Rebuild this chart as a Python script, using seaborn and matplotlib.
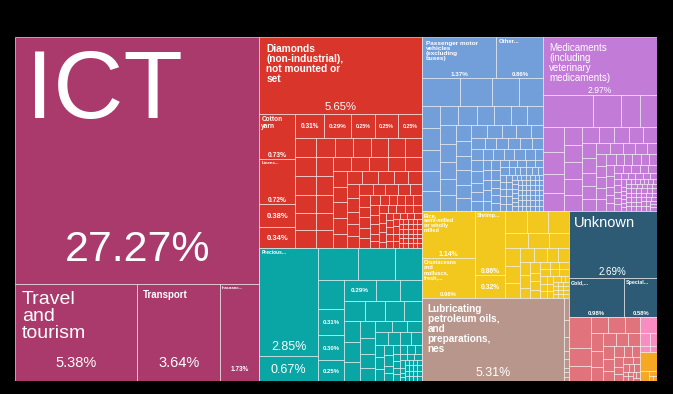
import matplotlib
matplotlib.use('Agg')
import matplotlib.pyplot as plt
import seaborn as sns

# --- DADOS (participação % nas exportações) ---
SERVICOS_NOMES = ['ICT', 'Travel\nand\ntourism', 'Transport', 'Insuranc...']
SERVICOS_VALORES = [27.27, 5.38, 3.64, 1.73]

PEDRAS_NOMES = ['Diamonds\n(non-industrial),\nnot mounted or\nset', 'Cotton\nyarn', 'Linens...']
PEDRAS_VALORES = [5.65, 0.73, 0.72, 0.38, 0.34, 0.31, 0.29, 0.25, 0.25, 0.25]
PEDRAS_MENORES = [0.19, 0.18, 0.18, 0.17, 0.17, 0.17, 0.16,
                  0.16, 0.15, 0.15, 0.15, 0.14, 0.14, 0.14,
                  0.13, 0.13, 0.13, 0.12, 0.12, 0.12, 0.11, 0.11,
                  0.10, 0.10, 0.10, 0.10, 0.09, 0.09, 0.09, 0.09,
                  0.08, 0.08, 0.08, 0.08, 0.07, 0.07, 0.07, 0.07,
                  0.06, 0.06, 0.06, 0.06, 0.06, 0.05, 0.05, 0.05, 0.05, 0.05,
                  0.04, 0.04, 0.04, 0.04, 0.04, 0.04, 0.04, 0.04,
                  0.03, 0.03, 0.03, 0.03, 0.03, 0.03, 0.03, 0.03, 0.03, 0.03,
                  0.02, 0.02, 0.02, 0.02, 0.02, 0.02, 0.02, 0.02, 0.02, 0.02, 0.02, 0.02, 0.02, 0.02,
                  0.01, 0.01, 0.01, 0.01, 0.01, 0.01, 0.01, 0.01, 0.01, 0.01,
                  0.01, 0.01, 0.01, 0.01, 0.01, 0.01, 0.01, 0.01, 0.01, 0.01,
                  0.01, 0.01, 0.01, 0.01, 0.01, 0.01, 0.01, 0.01, 0.01, 0.01]

PRECIOSOS_NOMES = ['Precious...']
PRECIOSOS_VALORES = [2.85, 0.67, 0.58, 0.54, 0.39, 0.35, 0.31, 0.30, 0.25, 0.29, 0.22, 0.20]
PRECIOSOS_MENORES = [0.19, 0.18, 0.17, 0.16, 0.15,
                     0.14, 0.13, 0.12, 0.11, 0.10,
                     0.09, 0.09, 0.08, 0.08, 0.07, 0.07,
                     0.06, 0.06, 0.05, 0.05, 0.05, 0.04, 0.04,
                     0.03, 0.03, 0.03, 0.03, 0.03, 0.03,
                     0.02, 0.02, 0.02, 0.02, 0.02, 0.02, 0.02, 0.02,
                     0.01, 0.01, 0.01, 0.01, 0.01, 0.01, 0.01, 0.01, 0.01, 0.01,
                     0.01, 0.01, 0.01, 0.01, 0.01, 0.01, 0.01, 0.01, 0.01]

MAQUINAS_NOMES = ['Passenger motor\nvehicles\n(excluding\nbuses)', 'Other...']
MAQUINAS_VALORES = [1.37, 0.86, 0.50, 0.41, 0.35, 0.32]
MAQUINAS_MENORES = [0.18, 0.18, 0.17, 0.17, 0.16, 0.16,
                    0.16, 0.15, 0.15, 0.14, 0.14, 0.13, 0.13,
                    0.12, 0.12, 0.11, 0.11, 0.10, 0.10, 0.10,
                    0.09, 0.09, 0.09, 0.08, 0.08, 0.08, 0.07, 0.07,
                    0.06, 0.06, 0.06, 0.06, 0.06, 0.06, 0.06, 0.06,
                    0.05, 0.05, 0.05, 0.05, 0.05, 0.05, 0.05, 0.05,
                    0.04, 0.04, 0.04, 0.04, 0.04, 0.04, 0.04, 0.04,
                    0.03, 0.03, 0.03, 0.03, 0.03, 0.03, 0.03, 0.03, 0.03, 0.03,
                    0.02, 0.02, 0.02, 0.02, 0.02, 0.02, 0.02, 0.02,
                    0.02, 0.02, 0.02, 0.02, 0.02, 0.02, 0.02, 0.02,
                    0.01, 0.01, 0.01, 0.01, 0.01, 0.01, 0.01, 0.01, 0.01, 0.01,
                    0.01, 0.01, 0.01, 0.01, 0.01, 0.01, 0.01, 0.01, 0.01, 0.01,
                    0.01, 0.01, 0.01, 0.01, 0.01, 0.01, 0.01, 0.01, 0.01, 0.01,
                    0.01, 0.01, 0.01, 0.01, 0.01, 0.01, 0.01, 0.01, 0.01, 0.01,
                    0.01, 0.01, 0.01, 0.01, 0.01, 0.01, 0.01, 0.01, 0.01, 0.01]

QUIMICOS_NOMES = ['Medicaments\n(including\nveterinary\nmedicaments)']
QUIMICOS_VALORES = [2.97, 0.72, 0.42, 0.27, 0.25]
QUIMICOS_MENORES = [0.24, 0.20, 0.18, 0.17,
                    0.15, 0.14, 0.14, 0.13, 0.13, 0.12,
                    0.11, 0.11, 0.10, 0.10, 0.09, 0.09,
                    0.08, 0.08, 0.07, 0.07, 0.07, 0.06, 0.06,
                    0.05, 0.05, 0.05, 0.05, 0.05, 0.05, 0.05,
                    0.04, 0.04, 0.04, 0.04, 0.04, 0.04, 0.04,
                    0.03, 0.03, 0.03, 0.03, 0.03, 0.03, 0.03, 0.03,
                    0.02, 0.02, 0.02, 0.02, 0.02, 0.02, 0.02, 0.02, 0.02, 0.02, 0.02, 0.02,
                    0.01, 0.01, 0.01, 0.01, 0.01, 0.01, 0.01, 0.01, 0.01, 0.01,
                    0.01, 0.01, 0.01, 0.01, 0.01, 0.01, 0.01, 0.01, 0.01, 0.01,
                    0.01, 0.01, 0.01, 0.01, 0.01, 0.01, 0.01, 0.01, 0.01, 0.01,
                    0.01, 0.01, 0.01, 0.01, 0.01, 0.01, 0.01, 0.01, 0.01, 0.01,
                    0.01, 0.01, 0.01, 0.01, 0.01, 0.01, 0.01, 0.01, 0.01, 0.01]

ALIMENTOS_NOMES = ['Rice,\nsemi-milled\nor wholly\nmilled', 'Crustaceans\nand\nmolluscs,\nfresh,...', 'Shrimp...']
ALIMENTOS_VALORES = [1.14, 0.98, 0.86, 0.32]
ALIMENTOS_MENORES = [0.22, 0.21, 0.20, 0.16, 0.15, 0.14,
                     0.12, 0.11, 0.10, 0.09,
                     0.08, 0.07, 0.07, 0.06, 0.06,
                     0.05, 0.05, 0.04, 0.04, 0.04,
                     0.03, 0.03, 0.03, 0.03, 0.03, 0.03,
                     0.02, 0.02, 0.02, 0.02, 0.02, 0.02, 0.02,
                     0.01, 0.01, 0.01, 0.01, 0.01, 0.01, 0.01,
                     0.01, 0.01, 0.01, 0.01, 0.01, 0.01, 0.01]

COMBUSTIVEIS_NOMES = ['Lubricating\npetroleum oils,\nand\npreparations,\nnes']
COMBUSTIVEIS_VALORES = [5.31, 0.05, 0.04, 0.03, 0.02, 0.02, 0.01, 0.01, 0.01]

OUTROS_NOMES = ['Unknown', 'Gold,...', 'Special...']
OUTROS_VALORES = [2.69, 0.98, 0.58]

SALMAO_VALORES = [0.30, 0.18, 0.15, 0.13, 0.12, 0.11, 0.10,
                  0.09, 0.08, 0.08, 0.07, 0.07,
                  0.06, 0.06, 0.05, 0.05, 0.04, 0.04, 0.04,
                  0.03, 0.03, 0.03, 0.02, 0.02, 0.02, 0.02,
                  0.01, 0.01, 0.01, 0.01, 0.01, 0.01, 0.01]
ROSA_VALORES = [0.12, 0.06, 0.04, 0.03, 0.02]
LARANJA_VALORES = [0.14, 0.04, 0.02, 0.01, 0.01]

# --- CONFIGURAÇÕES ---
OUTPUT_FILE = 'out.png'
CORES = {
    'servicos': '#a93a6b', 'pedras': '#d9352b', 'preciosos': '#0aa5a5',
    'maquinas': '#729fd9', 'quimicos': '#c27bd6', 'alimentos': '#f2c81f',
    'combustiveis': '#b9968b', 'outros': '#2d5b75', 'salmao': '#e0737b',
    'rosa': '#f78dc0', 'laranja': '#f6a724',
}
# rótulos: (fonte do nome, fonte da %, nome em negrito, % em negrito, margem, folga inferior)
ESTILOS = {
    ('servicos', 0): (70, 31, False, False, 11, 23),
    ('servicos', 1): (14, 10.5, False, False, 7, 14),
    ('servicos', 2): (7, 10.5, True, False, 6, 14),
    ('servicos', 3): (3.2, 4.7, True, True, 2, 10),
    ('pedras', 0): (7.3, 8.1, True, False, 7, 4),
    ('pedras', 1): (4.7, 4.8, True, True, 2, 2),
    ('pedras', 2): (3.2, 4.8, True, True, 2, 2),
    ('pedras', 3): (None, 5.5, True, True, 0, 0),
    ('pedras', 4): (None, 5.5, True, True, 0, 0),
    ('pedras', 5): (None, 4.7, True, True, 0, 0),
    ('pedras', 6): (None, 4.5, True, True, 0, 0),
    ('pedras', 7): (None, 3.8, True, True, 0, 0),
    ('pedras', 8): (None, 3.8, True, True, 0, 0),
    ('pedras', 9): (None, 3.8, True, True, 0, 0),
    ('preciosos', 0): (3.5, 9, True, False, 2, 6),
    ('preciosos', 1): (None, 9, False, False, 0, 0),
    ('preciosos', 6): (None, 4.3, True, True, 0, 0),
    ('preciosos', 7): (None, 4.3, True, True, 0, 0),
    ('preciosos', 8): (None, 4.3, True, True, 0, 0),
    ('preciosos', 9): (None, 4.6, True, True, 0, 0),
    ('maquinas', 0): (4.6, 4.5, True, True, 4, 2),
    ('maquinas', 1): (4.3, 4.3, True, True, 2, 2),
    ('quimicos', 0): (7, 6.2, False, False, 6, 2),
    ('alimentos', 0): (4, 5, True, True, 2, 2),
    ('alimentos', 1): (4, 4.2, True, True, 2, 2),
    ('alimentos', 2): (4, 4.9, True, True, 2, 2),
    ('alimentos', 3): (None, 4.9, True, True, 0, 0),
    ('combustiveis', 0): (7.2, 8.9, True, False, 6, 5),
    ('outros', 0): (10.5, 7, False, False, 5, 3),
    ('outros', 1): (3.8, 4.3, True, True, 2, 2),
    ('outros', 2): (3.8, 4.2, True, True, 2, 2),
}
RAZAO = 1.0

# --- FUNÇÕES AUXILIARES ---

def squarify(valores, x0, y0, x1, y1, razao=RAZAO):
    """Layout 'squarify' no mesmo esquema do d3-hierarchy. Devolve (x, y, w, h)."""
    n = len(valores)
    retangulos = []
    total = float(sum(valores))
    i0 = i1 = 0
    while i0 < n:
        dx, dy = x1 - x0, y1 - y0
        soma = valores[i1]
        i1 += 1
        vmin = vmax = soma
        alpha = max(dy / dx, dx / dy) / (total * razao)
        beta = soma * soma * alpha
        melhor = max(vmax / beta, beta / vmin)
        while i1 < n:
            v = valores[i1]
            nova_soma = soma + v
            beta = nova_soma * nova_soma * alpha
            nova = max(max(vmax, v) / beta, beta / min(vmin, v))
            if nova > melhor:
                break
            soma, melhor = nova_soma, nova
            vmin, vmax = min(vmin, v), max(vmax, v)
            i1 += 1
        linha = valores[i0:i1]
        if dx < dy:
            y_novo = y0 + dy * soma / total
            x = x0
            for v in linha:
                w = (x1 - x0) * v / soma
                retangulos.append((x, y0, w, y_novo - y0))
                x += w
            y0 = y_novo
        else:
            x_novo = x0 + dx * soma / total
            y = y0
            for v in linha:
                h = (y1 - y0) * v / soma
                retangulos.append((x0, y, x_novo - x0, h))
                y += h
            x0 = x_novo
        total -= soma
        i0 = i1
    return retangulos


def montar_grupos():
    grupos = [
        ('servicos', SERVICOS_NOMES, SERVICOS_VALORES),
        ('pedras', PEDRAS_NOMES, PEDRAS_VALORES + PEDRAS_MENORES),
        ('preciosos', PRECIOSOS_NOMES, PRECIOSOS_VALORES + PRECIOSOS_MENORES),
        ('maquinas', MAQUINAS_NOMES, MAQUINAS_VALORES + MAQUINAS_MENORES),
        ('quimicos', QUIMICOS_NOMES, QUIMICOS_VALORES + QUIMICOS_MENORES),
        ('alimentos', ALIMENTOS_NOMES, ALIMENTOS_VALORES + ALIMENTOS_MENORES),
        ('combustiveis', COMBUSTIVEIS_NOMES, COMBUSTIVEIS_VALORES),
        ('outros', OUTROS_NOMES, OUTROS_VALORES),
        ('salmao', [], SALMAO_VALORES),
        ('rosa', [], ROSA_VALORES),
        ('laranja', [], LARANJA_VALORES),
    ]
    return sorted(grupos, key=lambda g: -sum(g[2]))


def desenhar_rotulo(ax, chave, nome, valor, ret):
    x, y, w, h = ret
    fn, fs, bn, bs, margem, folga = ESTILOS[chave]
    if fn is not None and nome:
        ax.text(x + margem, y + margem, nome, color='white', fontsize=fn,
                fontweight='bold' if bn else 'normal', ha='left', va='top',
                linespacing=1.0, zorder=3)
        ax.text(x + w / 2, y + h - folga, f'{valor:.2f}%', color='white', fontsize=fs,
                fontweight='bold' if bs else 'normal', ha='center', va='baseline', zorder=3)
    else:
        ax.text(x + w / 2, y + h / 2, f'{valor:.2f}%', color='white', fontsize=fs,
                fontweight='bold' if bs else 'normal', ha='center', va='center_baseline', zorder=3)


# --- GRÁFICO ---

if __name__ == '__main__':
    sns.set_theme(style='white')
    plt.rcParams['font.family'] = ['Liberation Sans', 'DejaVu Sans']

    fig = plt.figure(figsize=(6.73, 3.94), dpi=100, facecolor='black')
    ax = fig.add_axes([15 / 673, 13 / 394, 642 / 673, 344 / 394])
    ax.set_xlim(0, 642)
    ax.set_ylim(344, 0)
    ax.axis('off')

    grupos = montar_grupos()
    caixas = squarify([sum(g[2]) for g in grupos], 0, 0, 642, 344)
    for (chave, nomes, valores), (gx, gy, gw, gh) in zip(grupos, caixas):
        rets = squarify(valores, gx, gy, gx + gw, gy + gh)
        ax.bar([r[0] for r in rets], [r[3] for r in rets], width=[r[2] for r in rets],
               bottom=[r[1] for r in rets], align='edge', color=CORES[chave],
               edgecolor=(1, 1, 1, 0.7), linewidth=0.6, zorder=2)
        for i, (valor, ret) in enumerate(zip(valores, rets)):
            if (chave, i) in ESTILOS:
                nome = nomes[i] if i < len(nomes) else ''
                desenhar_rotulo(ax, (chave, i), nome, valor, ret)

    fig.savefig(OUTPUT_FILE, dpi=100, facecolor='black')
    plt.close(fig)
